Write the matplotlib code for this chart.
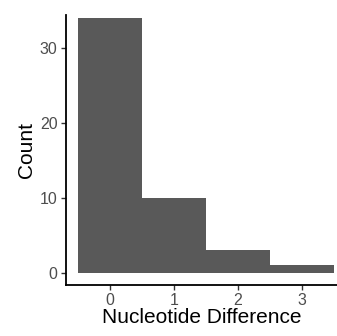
import matplotlib
matplotlib.use("Agg")
import matplotlib.pyplot as plt

# histogram of nucleotide differences
diffs = [0, 1, 2, 3]
counts = [34, 10, 3, 1]
yticks = [0, 10, 20, 30]

plt.rcParams['font.family'] = ['Liberation Sans', 'DejaVu Sans']

fig = plt.figure(figsize=(3.37, 3.36), dpi=100)
ax = fig.add_axes([66 / 337, 51 / 336, 1 - 66 / 337, 270 / 336])

ax.bar(diffs, counts, width=1.0, color="#595959", linewidth=0)

ax.set_xlim(-0.69, 3.55)
ax.set_ylim(-1.6, 34.35)
ax.set_xticks(diffs)
ax.set_yticks(yticks)

for side in ["top", "right"]:
    ax.spines[side].set_visible(False)
for side in ["left", "bottom"]:
    ax.spines[side].set_linewidth(1.3)
    ax.spines[side].set_color("black")

ax.tick_params(axis="both", length=3.5, width=1.0, color="#333333",
               labelcolor="#4D4D4D", labelsize=11.5, pad=2.5)

ax.set_xlabel("Nucleotide Difference", fontsize=15, labelpad=0)
ax.set_ylabel("Count", fontsize=15, labelpad=3)

fig.savefig("out.png", dpi=100)
